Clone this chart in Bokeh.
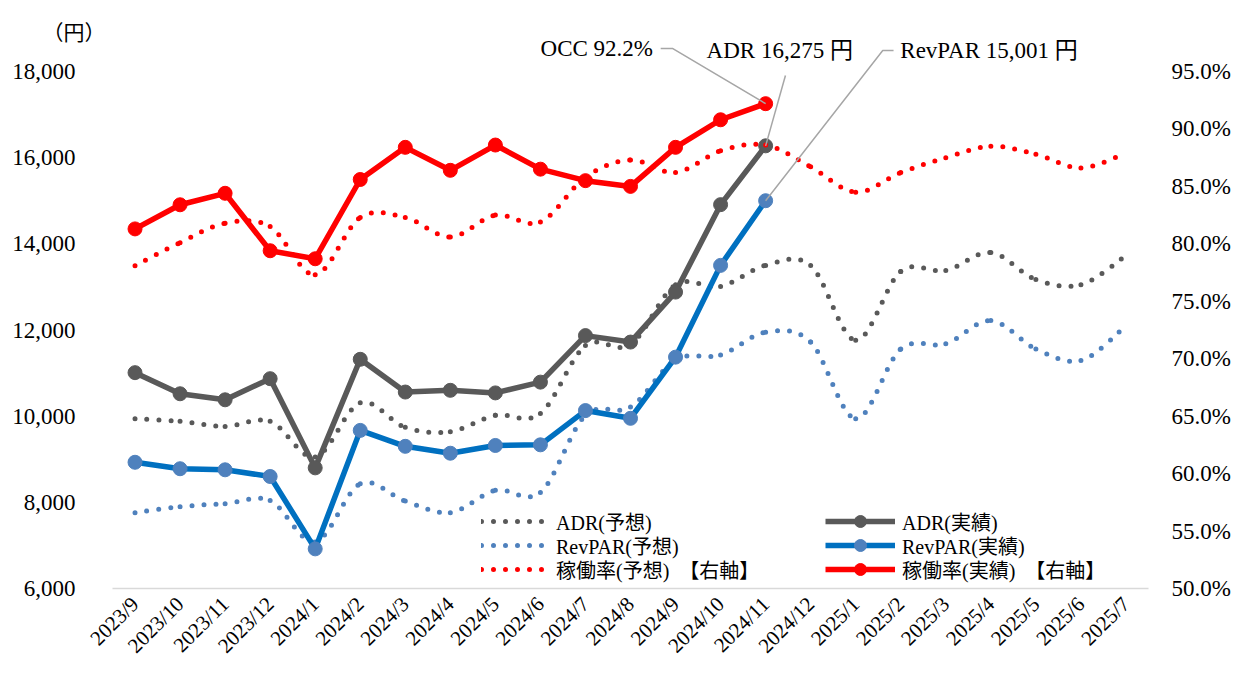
import math
from bokeh.plotting import figure
from bokeh.models import (Range1d, LinearAxis, FixedTicker, PrintfTickFormatter,
                          NumeralTickFormatter, Legend, LegendItem, Label)
from bokeh.embed import file_html
from bokeh.resources import INLINE

# ---------------- data ----------------
months = ["2023/9", "2023/10", "2023/11", "2023/12", "2024/1", "2024/2", "2024/3",
          "2024/4", "2024/5", "2024/6", "2024/7", "2024/8", "2024/9", "2024/10",
          "2024/11", "2024/12", "2025/1", "2025/2", "2025/3", "2025/4", "2025/5",
          "2025/6", "2025/7"]

adr_fc = [9940, 9880, 9760, 9880, 9050, 10310, 9740, 9640, 10020, 10060, 11640, 11660,
          13050, 13010, 13500, 13500, 11760, 13360, 13380, 13800, 13170, 13050, 13730]
rev_fc = [7760, 7900, 7970, 8040, 7080, 8430, 8030, 7760, 8280, 8230, 10020, 10210,
          11310, 11420, 11950, 11720, 9940, 11560, 11680, 12220, 11560, 11290, 12100]
occ_fc = [78.1, 80.1, 81.8, 81.5, 77.3, 82.3, 82.3, 80.6, 82.5, 81.9, 85.8, 87.3,
          86.2, 88.1, 88.6, 86.7, 84.5, 86.2, 87.5, 88.5, 87.8, 86.6, 87.9]

adr_act = [11010, 10520, 10380, 10870, 8800, 11320, 10560, 10600, 10540, 10790, 11870,
           11720, 12880, 14910, 16275]
rev_act = [8930, 8780, 8755, 8600, 6920, 9670, 9300, 9140, 9320, 9335, 10130, 9950,
           11370, 13500, 15001]
occ_act = [81.3, 83.4, 84.4, 79.4, 78.7, 85.6, 88.4, 86.4, 88.6, 86.5, 85.5, 85.0,
           88.4, 90.8, 92.2]

left_ticks = [6000, 8000, 10000, 12000, 14000, 16000, 18000]
right_ticks = [50, 55, 60, 65, 70, 75, 80, 85, 90, 95]

FONT = "Liberation Serif, Noto Sans CJK JP"
GRAY = "#595959"
BLUE_LINE = "#0070C0"
BLUE_MK = "#4F81BD"
RED = "#FF0000"

xi = list(range(len(months)))

p = figure(frame_width=1036, frame_height=558, min_border_left=112, min_border_right=77,
           min_border_top=30, min_border_bottom=76, output_backend="svg",
           toolbar_location=None, x_range=Range1d(-0.5, len(months) - 0.5),
           y_range=Range1d(6000, 18952), title="（円）")
p.extra_y_ranges = {"occ": Range1d(50, 98.57)}
p.xgrid.visible = False
p.ygrid.visible = False
p.outline_line_color = None
p.background_fill_color = "white"
p.border_fill_color = "white"

# unit caption (top-left, over the left axis)
p.title.align = "left"
p.title.offset = -70
p.title.standoff = -28
p.title.text_font = FONT
p.title.text_font_size = "21px"
p.title.text_font_style = "normal"
p.title.text_color = "#000000"

# axes
xa = p.xaxis[0]
xa.ticker = FixedTicker(ticks=xi)
xa.major_label_overrides = {i: m for i, m in zip(xi, months)}
xa.major_label_orientation = math.pi / 4
xa.major_tick_line_color = None
xa.minor_tick_line_color = None
xa.axis_line_color = "#D9D9D9"
xa.axis_line_width = 1.5
xa.major_label_text_font = FONT
xa.major_label_text_font_size = "21px"
xa.major_label_text_color = "#000000"
xa.major_label_standoff = 6

ya = p.yaxis[0]
ya.ticker = FixedTicker(ticks=left_ticks)
ya.formatter = NumeralTickFormatter(format="0,0")
ya.axis_line_color = None
ya.major_tick_line_color = None
ya.minor_tick_line_color = None
ya.major_label_text_font = FONT
ya.major_label_text_font_size = "23px"
ya.major_label_text_color = "#000000"
ya.major_label_standoff = 31

ra = LinearAxis(y_range_name="occ", ticker=FixedTicker(ticks=right_ticks),
                formatter=PrintfTickFormatter(format="%.1f%%"))
ra.axis_line_color = None
ra.major_tick_line_color = None
ra.minor_tick_line_color = None
ra.major_label_text_font = FONT
ra.major_label_text_font_size = "23px"
ra.major_label_text_color = "#000000"
ra.major_label_standoff = 17
p.add_layout(ra, "right")


def bez_source(xs, ys):
    n = len(xs)
    d = {k: [] for k in ("x0", "y0", "x1", "y1", "cx0", "cy0", "cx1", "cy1")}
    for i in range(n - 1):
        ip = max(i - 1, 0)
        inx = min(i + 2, n - 1)
        d["x0"].append(xs[i]); d["y0"].append(ys[i])
        d["x1"].append(xs[i + 1]); d["y1"].append(ys[i + 1])
        d["cx0"].append(xs[i] + (xs[i + 1] - xs[ip]) / 6)
        d["cy0"].append(ys[i] + (ys[i + 1] - ys[ip]) / 6)
        d["cx1"].append(xs[i + 1] - (xs[inx] - xs[i]) / 6)
        d["cy1"].append(ys[i + 1] - (ys[inx] - ys[i]) / 6)
    return d


DOT = dict(line_width=5, line_dash="0 12", line_cap="round")
BZ = dict(x0="x0", y0="y0", x1="x1", y1="y1", cx0="cx0", cy0="cy0", cx1="cx1", cy1="cy1")

r_adr_fc = p.bezier(source=bez_source(xi, adr_fc), line_color=GRAY, **BZ, **DOT)
r_rev_fc = p.bezier(source=bez_source(xi, rev_fc), line_color=BLUE_MK, **BZ, **DOT)

xa_act = xi[:len(adr_act)]
r_adr_l = p.line(xa_act, adr_act, line_color=GRAY, line_width=5.5, line_join="round")
r_adr_m = p.scatter(xa_act, adr_act, size=14, fill_color=GRAY, line_color=GRAY)
r_rev_l = p.line(xa_act, rev_act, line_color=BLUE_LINE, line_width=5.5, line_join="round")
r_rev_m = p.scatter(xa_act, rev_act, size=14, fill_color=BLUE_MK, line_color=BLUE_MK)

r_occ_fc = p.bezier(source=bez_source(xi, occ_fc), line_color=RED, y_range_name="occ",
                    **BZ, **DOT)
r_occ_l = p.line(xa_act, occ_act, line_color=RED, line_width=5.5, line_join="round",
                 y_range_name="occ")
r_occ_m = p.scatter(xa_act, occ_act, size=14, fill_color=RED, line_color=RED,
                    y_range_name="occ")

# leader lines + callout labels
last = len(adr_act) - 1
LEAD = dict(line_color="#A6A6A6", line_width=1.5)
p.line([11.67, 11.94, xi[last]], [97.0, 97.0, occ_act[last]], y_range_name="occ", **LEAD)
p.line([14.44, xi[last]], [17907, adr_act[last]], **LEAD)
p.line([16.84, 16.6, xi[last]], [18487, 18487, rev_act[last]], **LEAD)

TXT = dict(text_font=FONT, text_font_size="23px", text_color="#000000",
           text_baseline="middle")
p.add_layout(Label(x=11.5, y=97.0, y_range_name="occ", text="OCC 92.2%",
                   text_align="right", **TXT))
p.add_layout(Label(x=12.69, y=18487, text="ADR 16,275 円", text_align="left", **TXT))
p.add_layout(Label(x=16.99, y=18487, text="RevPAR 15,001 円", text_align="left", **TXT))

# legends (one per entry so rows can sit tight like the original)
LEG = dict(background_fill_alpha=0, border_line_color=None, padding=0, spacing=0,
           margin=0, label_text_font=FONT, label_text_font_size="20px",
           label_text_color="#000000", label_height=30, glyph_height=30)
rows_y = [52, 28, 4]
left_items = [("ADR(予想)", [r_adr_fc]), ("RevPAR(予想)", [r_rev_fc]),
              ("稼働率(予想)　【右軸】", [r_occ_fc])]
right_items = [("ADR(実績)", [r_adr_l, r_adr_m]), ("RevPAR(実績)", [r_rev_l, r_rev_m]),
               ("稼働率(実績)　【右軸】", [r_occ_l, r_occ_m])]
for (lab, rs), yy in zip(left_items, rows_y):
    p.add_layout(Legend(items=[LegendItem(label=lab, renderers=rs)], location=(369, yy),
                        glyph_width=64, label_standoff=11, **LEG), "center")
for (lab, rs), yy in zip(right_items, rows_y):
    p.add_layout(Legend(items=[LegendItem(label=lab, renderers=rs)], location=(713, yy),
                        glyph_width=70, label_standoff=7, **LEG), "center")

open("out.html", "w").write(file_html(p, INLINE))
